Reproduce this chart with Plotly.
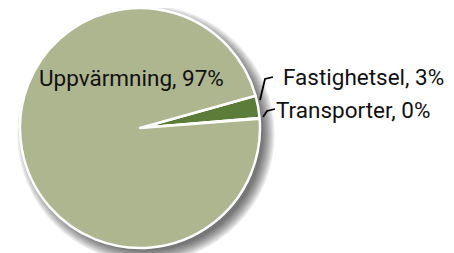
import plotly.graph_objects as go

# Data
categories = ["Fastighetsel", "Transporter", "Uppvärmning"]
values = [3.0, 0.1, 96.9]
slice_colors = ["#5C7D3A", "#B3BA95", "#AEB690"]

# page has an 8px body margin, so work in figure coords shifted by -8
OFF = 8
W, H = 446, 245
cx, cy, r = 140 - OFF, 128 - OFF, 120

def px(x):
    return (x - OFF) / W

def py(y):
    return 1 - (y - OFF) / H

def clamp(v):
    return max(0.0, min(1.0, v))

def dom(cx_, cy_, r_):
    return dict(x=[clamp((cx_ - r_) / W), clamp((cx_ + r_) / W)],
                y=[clamp((H - cy_ - r_) / H), clamp((H - cy_ + r_) / H)])

fig = go.Figure()

# soft shadow layers (circles behind the pie)
for k in range(10):
    rr = r - 3 + k * 1.3
    sx, sy = cx + 6, cy + 6
    fig.add_shape(type="circle", xref="paper", yref="paper", layer="below",
                  x0=(sx - rr) / W, x1=(sx + rr) / W,
                  y0=1 - (sy + rr) / H, y1=1 - (sy - rr) / H,
                  fillcolor="rgba(0,0,0,0.07)", line=dict(width=0))

fig.add_trace(go.Pie(
    labels=categories, values=values, domain=dom(cx, cy, r),
    sort=False, direction="clockwise", rotation=74.4,
    marker=dict(colors=slice_colors, line=dict(color="white", width=2.5)),
    textinfo="none", hoverinfo="label+percent", showlegend=False))

total = sum(values)
texts = {c: f"{c}, {round(v / total * 100)}%" for c, v in zip(categories, values)}

font = dict(family="Roboto", size=22.5, color="#111111")
label_pos = {
    "Uppvärmning": (37, 78),
    "Fastighetsel": (281, 77),
    "Transporter": (274, 110),
}
for c in categories:
    x, y = label_pos[c]
    fig.add_annotation(x=px(x), y=py(y), xref="paper", yref="paper",
                       text=texts[c], showarrow=False, xanchor="left",
                       yanchor="middle", font=font)

# leader lines
fig.add_shape(type="path", xref="paper", yref="paper",
              path=f"M {px(260)},{py(100)} L {px(265)},{py(79)} L {px(273)},{py(77)}",
              line=dict(color="black", width=1.8))
fig.add_shape(type="path", xref="paper", yref="paper",
              path=f"M {px(263)},{py(117)} L {px(267)},{py(111)} L {px(275)},{py(109)}",
              line=dict(color="black", width=1.8))

fig.update_layout(width=W, height=H, margin=dict(l=0, r=0, t=0, b=0),
                  paper_bgcolor="white", plot_bgcolor="white")
fig.write_html("out.html")
